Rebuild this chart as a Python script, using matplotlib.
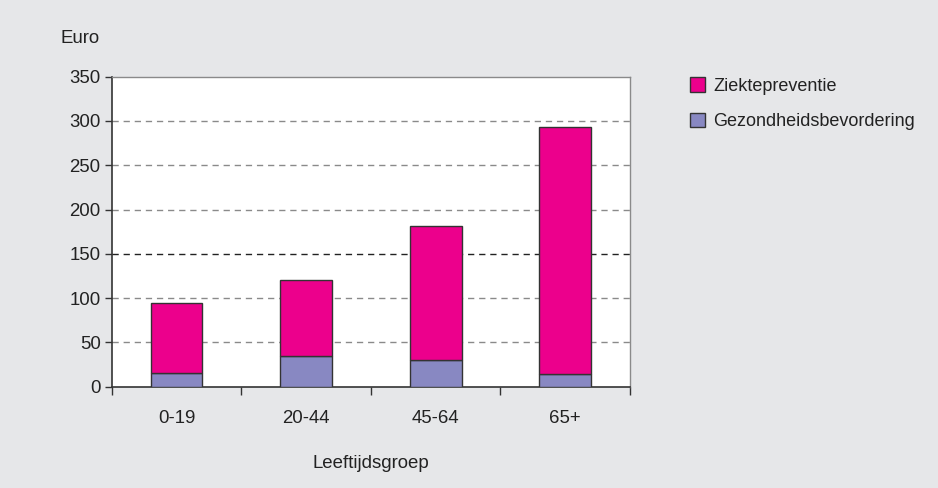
import numpy as np
import matplotlib.pyplot as plt
from matplotlib.patches import Patch

plt.rcParams['font.family'] = ['Liberation Sans', 'DejaVu Sans']

groepen = ['0-19', '20-44', '45-64', '65+']
gezondheidsbevordering = [16, 35, 30, 14]
ziektepreventie = [78, 86, 152, 279]

kleur_ziekte = '#ec008c'
kleur_gezond = '#8888c2'
achtergrond = '#e6e7e9'
fs = 13.4

fig = plt.figure(figsize=(9.38, 4.88), dpi=100, facecolor=achtergrond)
ax = fig.add_axes([0.1191, 0.2076, 0.5526, 0.6352])
ax.set_facecolor('white')

x = np.arange(len(groepen))
ax.bar(x, gezondheidsbevordering, width=0.4, color=kleur_gezond,
       edgecolor='#333333', linewidth=1, zorder=3)
ax.bar(x, ziektepreventie, width=0.4, bottom=gezondheidsbevordering,
       color=kleur_ziekte, edgecolor='#333333', linewidth=1, zorder=3)

ax.set_xlim(-0.5, len(groepen) - 0.5)
ax.set_ylim(0, 350)
ax.set_yticks(range(0, 351, 50))

# stippellijnen op de hulplijnen
for y in range(50, 350, 50):
    c = '#222222' if y == 150 else '#8a8a8a'
    ax.axhline(y, color=c, linestyle=(0, (4.5, 3.5)), linewidth=1, zorder=1)

# tick-streepjes op de grenzen tussen groepen, labels in het midden
ax.set_xticks(np.arange(-0.5, len(groepen), 1))
ax.set_xticklabels([])
ax.set_xticks(x, minor=True)
ax.set_xticklabels(groepen, minor=True)
ax.tick_params(axis='x', which='major', direction='out', length=6, width=1, color='#333333')
ax.tick_params(axis='x', which='minor', length=0, pad=17, labelsize=fs, labelcolor='#222222')
ax.tick_params(axis='y', direction='out', length=5, width=1, color='#333333',
               labelsize=fs, labelcolor='#222222', pad=3)

for s in ['top', 'right']:
    ax.spines[s].set_color('#8a8a8a')
    ax.spines[s].set_linewidth(1)
for s in ['left', 'bottom']:
    ax.spines[s].set_color('#333333')
    ax.spines[s].set_linewidth(1.2)

ax.set_xlabel('Leeftijdsgroep', fontsize=fs, color='#222222', labelpad=20)
fig.text(0.064, 0.922, 'Euro', fontsize=fs, color='#222222', va='center', ha='left')

handles = [Patch(facecolor=kleur_ziekte, edgecolor='#333333', label='Ziektepreventie'),
           Patch(facecolor=kleur_gezond, edgecolor='#333333', label='Gezondheidsbevordering')]
fig.legend(handles=handles, loc='upper left', bbox_to_anchor=(0.726, 0.86),
           frameon=False, fontsize=13, handlelength=0.85, handleheight=0.85,
           handletextpad=0.45, labelspacing=1.0, borderpad=0, labelcolor='#222222')

fig.savefig('out.png', dpi=100, facecolor=achtergrond)
